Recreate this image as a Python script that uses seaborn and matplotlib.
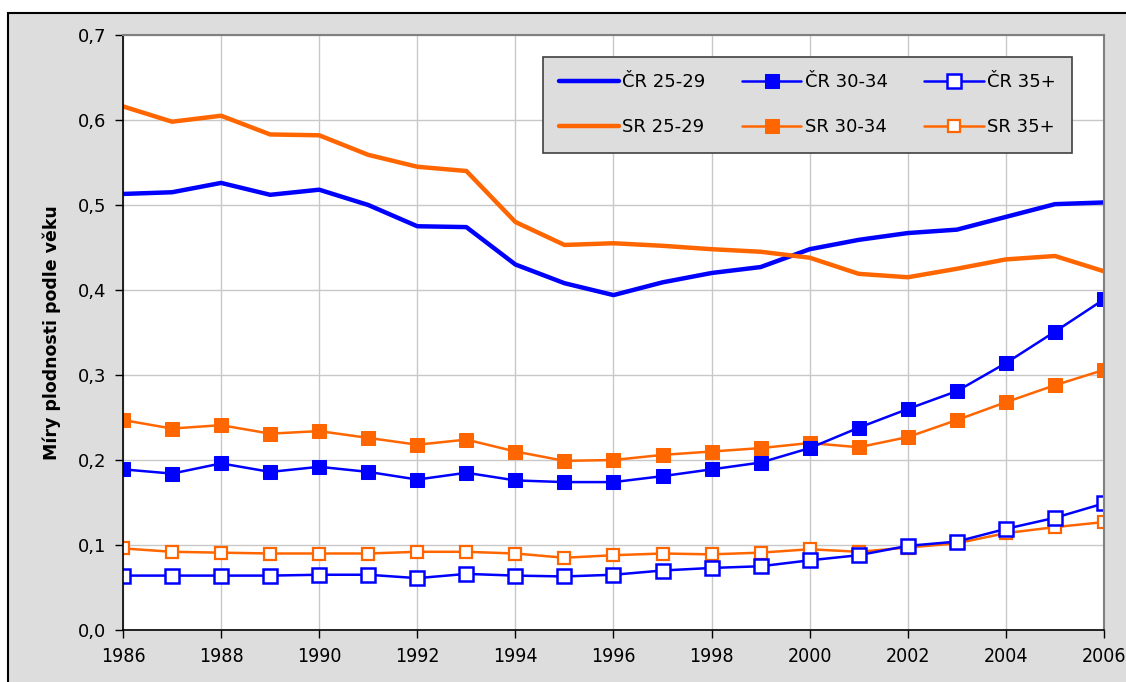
import matplotlib
matplotlib.use("Agg")
import matplotlib.pyplot as plt
from matplotlib.patches import Rectangle
import seaborn as sns
import pandas as pd

years = list(range(1986, 2007))
cr_25_29 = [0.513, 0.515, 0.526, 0.512, 0.518, 0.500, 0.475, 0.474, 0.430, 0.408, 0.394,
            0.409, 0.420, 0.427, 0.448, 0.459, 0.467, 0.471, 0.486, 0.501, 0.503]
sr_25_29 = [0.616, 0.598, 0.605, 0.583, 0.582, 0.559, 0.545, 0.540, 0.480, 0.453, 0.455,
            0.452, 0.448, 0.445, 0.438, 0.419, 0.415, 0.425, 0.436, 0.440, 0.422]
cr_30_34 = [0.189, 0.184, 0.196, 0.186, 0.192, 0.186, 0.177, 0.185, 0.176, 0.174, 0.174,
            0.181, 0.189, 0.197, 0.214, 0.238, 0.260, 0.281, 0.314, 0.351, 0.389]
sr_30_34 = [0.247, 0.237, 0.241, 0.231, 0.234, 0.226, 0.218, 0.224, 0.210, 0.199, 0.200,
            0.206, 0.210, 0.214, 0.220, 0.215, 0.227, 0.247, 0.268, 0.288, 0.306]
cr_35 = [0.064, 0.064, 0.064, 0.064, 0.065, 0.065, 0.061, 0.066, 0.064, 0.063, 0.065,
         0.070, 0.073, 0.075, 0.082, 0.088, 0.099, 0.104, 0.119, 0.132, 0.149]
sr_35 = [0.096, 0.092, 0.091, 0.090, 0.090, 0.090, 0.092, 0.092, 0.090, 0.085, 0.088,
         0.090, 0.089, 0.091, 0.095, 0.092, 0.097, 0.102, 0.114, 0.121, 0.127]

labels = ["ČR 25-29", "ČR 30-34", "ČR 35+", "SR 25-29", "SR 30-34", "SR 35+"]
y_ticks = [0.0, 0.1, 0.2, 0.3, 0.4, 0.5, 0.6, 0.7]
x_ticks = list(range(1986, 2007, 2))
y_label = "Míry plodnosti podle věku"

BLUE = "#0000FF"
ORANGE = "#FF6600"

sns.set_theme(style="white")
plt.rcParams['font.family'] = ['DejaVu Sans']
plt.rcParams['text.color'] = 'black'
plt.rcParams['xtick.color'] = 'black'
plt.rcParams['ytick.color'] = 'black'
plt.rcParams['axes.labelcolor'] = 'black'

fig = plt.figure(figsize=(11.26, 6.82), dpi=100)
fig.patch.set_facecolor("white")
fig.patches.append(Rectangle((8 / 1126, -0.05), 1.1, 1 - 13 / 682 + 0.05,
                             transform=fig.transFigure, facecolor="#DDDDDD",
                             edgecolor="black", linewidth=1.5, zorder=-10))

ax = fig.add_axes([123 / 1126, 1 - 630 / 682, (1104 - 123) / 1126, (630 - 35) / 682])
ax.set_facecolor("white")

styles = {
    "ČR 25-29": dict(color=BLUE, lw=3.2),
    "SR 25-29": dict(color=ORANGE, lw=3.2),
    "ČR 30-34": dict(color=BLUE, lw=1.8, marker="s", markersize=10,
                     markerfacecolor=BLUE, markeredgecolor=BLUE),
    "SR 30-34": dict(color=ORANGE, lw=1.8, marker="s", markersize=10,
                     markerfacecolor=ORANGE, markeredgecolor=ORANGE),
    "ČR 35+": dict(color=BLUE, lw=1.8, marker="s", markersize=10.5,
                   markerfacecolor="white", markeredgecolor=BLUE, markeredgewidth=1.8),
    "SR 35+": dict(color=ORANGE, lw=1.8, marker="s", markersize=8.5,
                   markerfacecolor="white", markeredgecolor=ORANGE, markeredgewidth=1.6),
}
data = {"ČR 25-29": cr_25_29, "SR 25-29": sr_25_29, "ČR 30-34": cr_30_34,
        "SR 30-34": sr_30_34, "ČR 35+": cr_35, "SR 35+": sr_35}

handles = {}
for name in ["SR 35+", "ČR 35+", "SR 30-34", "ČR 30-34", "ČR 25-29", "SR 25-29"]:
    df = pd.DataFrame({"year": years, "value": data[name]})
    sns.lineplot(data=df, x="year", y="value", ax=ax, label=name, **styles[name])
    handles[name] = ax.get_lines()[-1]

ax.set_xlim(1986, 2006)
ax.set_ylim(0, 0.7)
ax.set_xticks(x_ticks)
ax.set_yticks(y_ticks)
ax.set_yticklabels([f"{v:.1f}".replace(".", ",") for v in y_ticks], fontsize=13)
ax.set_xticklabels([str(v) for v in x_ticks], fontsize=14, fontstretch="condensed")
ax.grid(True, color="#C8C8C8", linewidth=1)
ax.set_axisbelow(True)
ax.tick_params(axis="both", which="major", direction="out", length=6, width=1,
               color="black", left=True, bottom=True, pad=6)
for side in ["left", "bottom"]:
    ax.spines[side].set_color("black")
    ax.spines[side].set_linewidth(1.2)
for side in ["top", "right"]:
    ax.spines[side].set_color("#808080")
    ax.spines[side].set_linewidth(1.5)
    ax.spines[side].set_visible(True)
ax.set_xlabel("")
ax.set_ylabel(y_label, fontsize=12.5, fontweight="bold", labelpad=12)

order = ["ČR 25-29", "SR 25-29", "ČR 30-34", "SR 30-34", "ČR 35+", "SR 35+"]
leg = ax.legend([handles[n] for n in order], order, ncol=3, loc="upper left",
                bbox_to_anchor=((543 - 123) / 981, 1 - (57 - 35) / 595),
                borderaxespad=0,
                frameon=True, fancybox=False, fontsize=13, handlelength=3.3,
                columnspacing=2.0, handletextpad=0.2, borderpad=0.9, labelspacing=1.5)
leg.get_frame().set_facecolor("#DDDDDD")
leg.get_frame().set_edgecolor("#404040")
leg.get_frame().set_linewidth(1.2)
leg.get_frame().set_alpha(1)

fig.savefig("out.png", dpi=100, facecolor=fig.get_facecolor())
